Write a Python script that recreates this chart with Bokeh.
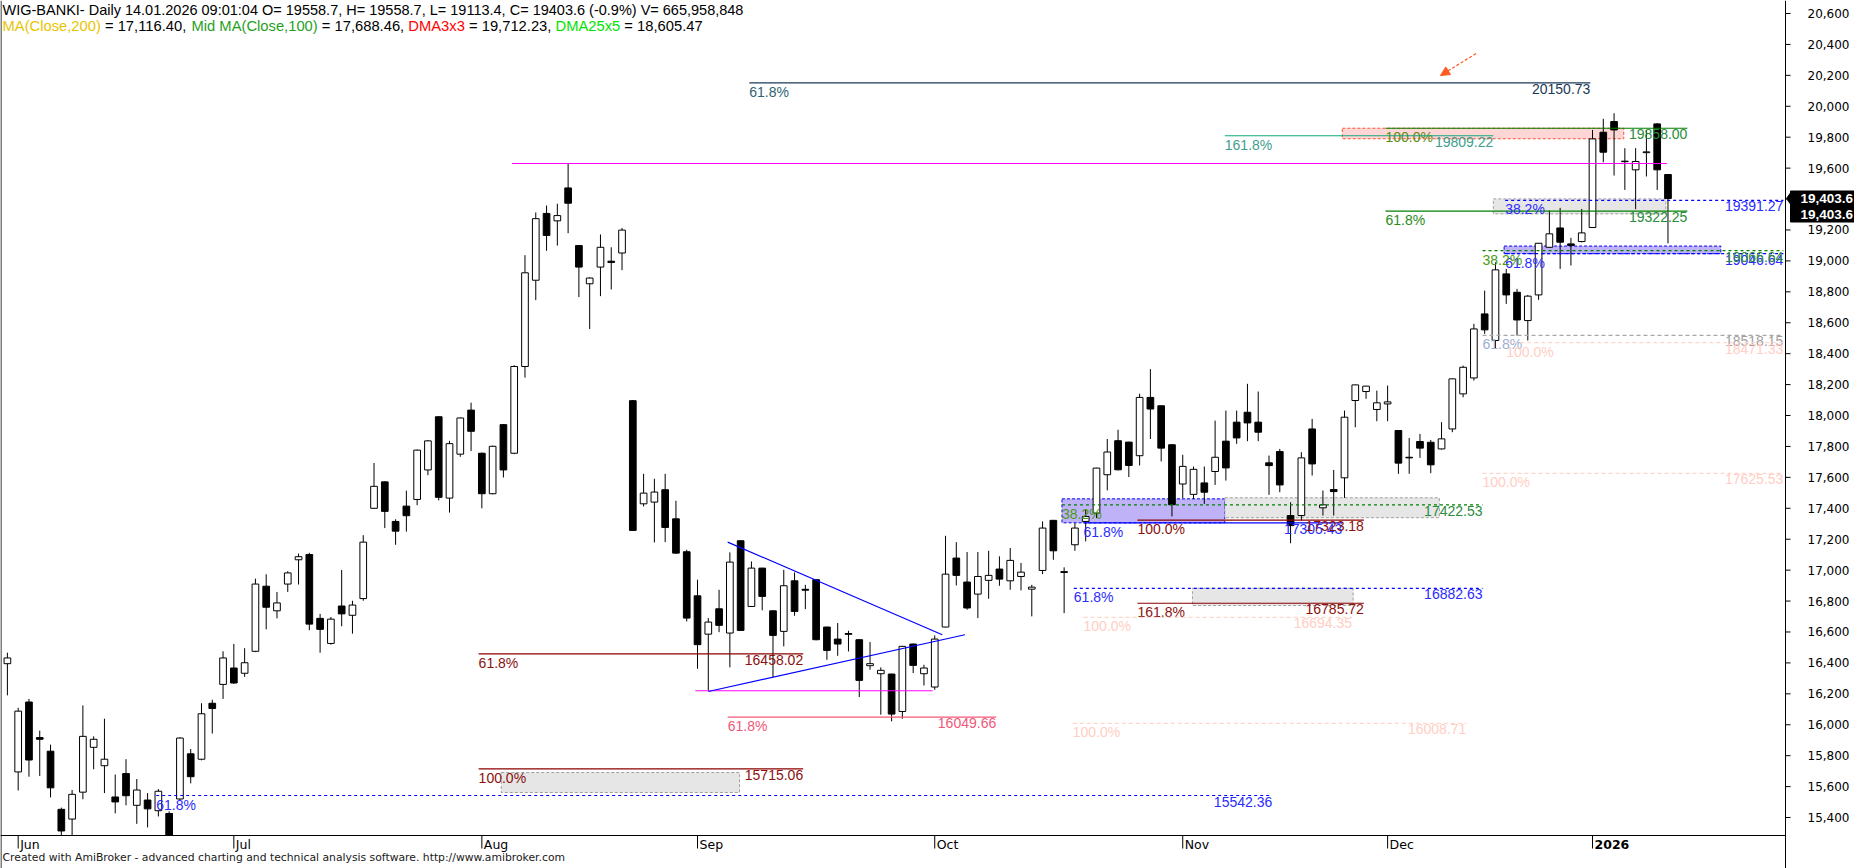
import datetime as dt
import numpy as np
from bokeh.plotting import figure
from bokeh.models import Range1d, Arrow, NormalHead
from bokeh.core.properties import value
from bokeh.embed import file_html
from bokeh.resources import INLINE

FONT = "Liberation Sans"
AFONT = "DejaVu Sans"

# ---------------- trading calendar ----------------
HOLIDAYS = {dt.date(2025, 6, 19), dt.date(2025, 8, 15), dt.date(2025, 11, 11),
            dt.date(2025, 12, 24), dt.date(2025, 12, 25), dt.date(2025, 12, 26),
            dt.date(2025, 12, 31), dt.date(2026, 1, 1), dt.date(2026, 1, 6)}
dates = []
d = dt.date(2025, 5, 30)
while d <= dt.date(2026, 1, 14):
    if d.weekday() < 5 and d not in HOLIDAYS:
        dates.append(d)
    d += dt.timedelta(days=1)

# ---------------- OHLC ----------------
open_ = [16395, 15695, 16147, 15917, 15829, 15453, 15390, 15564, 15854, 15735,
         15533, 15684, 15479, 15513, 15444, 15426, 15520, 15812, 15777, 16139,
         16261, 16367, 16333, 16475, 16896, 16737, 16910, 17067, 17101, 16688,
         16526, 16768, 16708, 16816, 17400, 17571, 17315, 17414, 17457, 17648,
         17992, 17466, 17750, 18035, 17756, 17494, 17941, 17756, 18317, 18875,
         19307, 19259, 19472, 19099, 18852, 18960, 18998, 19051, 18096, 17429,
         17440, 17520, 17332, 17119, 16834, 16586, 16750, 16593, 17190, 16765,
         17013, 16737, 16604, 16931, 16876, 16938, 16632, 16554, 16590, 16550,
         16382, 16330, 16328, 16086, 16522, 16330, 16244, 16632, 17078, 16923,
         16845, 16934, 17007, 16931, 16959, 16877, 16998, 17322, 16990, 17164,
         17315, 17369, 17617, 17837, 17828, 17740, 18117, 18063, 17811, 17557,
         17490, 17564, 17638, 17834, 17957, 18021, 17957, 17694, 17767, 17353,
         17353, 17913, 17403, 17521, 17597, 18097, 18155, 18039, 18075, 17903,
         17730, 17832, 17827, 17784, 17913, 18140, 18243, 18657, 18485, 18916,
         18797, 18614, 18780, 19088, 19213, 19110, 19125, 19216, 19832, 19901,
         19645, 19589, 19700, 19886, 19558.7]
high = [16466, 16110, 16167, 15962, 15871, 15464, 15578, 16125, 15925, 16039,
        15678, 15777, 15649, 15558, 15584, 15440, 15920, 15843, 16139, 16162,
        16475, 16523, 16495, 16945, 16973, 16859, 16993, 17107, 17112, 16717,
        16697, 17001, 16802, 17226, 17693, 17575, 17329, 17514, 17780, 17841,
        17995, 17836, 17987, 18083, 17760, 17805, 17945, 18325, 19037, 19313,
        19358, 19370, 19629, 19100, 18893, 19171, 19088, 19213, 18100, 17623,
        17591, 17623, 17449, 17132, 16938, 16690, 16873, 17115, 17192, 17056,
        17015, 16740, 17002, 16985, 16905, 16940, 16634, 16658, 16608, 16552,
        16535, 16371, 16330, 16510, 16525, 16388, 16578, 17222, 17181, 17117,
        17117, 17125, 17089, 17143, 17046, 16905, 17315, 17325, 17018, 17304,
        17391, 17662, 17848, 17908, 17830, 18141, 18300, 18065, 17815, 17746,
        17670, 17670, 17967, 18032, 18032, 18205, 18155, 17741, 17784, 17439,
        17763, 17978, 17515, 17648, 18032, 18200, 18192, 18161, 18194, 17905,
        17855, 17881, 17842, 17957, 18240, 18323, 18593, 18808, 18991, 18948,
        18819, 18780, 19116, 19326, 19343, 19149, 19336, 19847, 19919, 19955,
        19729, 19729, 19847, 19890, 19558.7]
low = [16190, 15575, 15664, 15669, 15530, 15240, 15250, 15518, 15712, 15558,
       15427, 15479, 15359, 15336, 15407, 15180, 15510, 15621, 15770, 15943,
       16167, 16265, 16310, 16470, 16617, 16688, 16859, 16907, 16611, 16466,
       16518, 16637, 16589, 16802, 17398, 17272, 17164, 17249, 17420, 17614,
       17451, 17372, 17733, 17770, 17400, 17490, 17599, 17750, 18245, 18746,
       19065, 19099, 19179, 18766, 18559, 18772, 18815, 18940, 17255, 17412,
       17179, 17181, 17105, 16668, 16362, 16222, 16599, 16371, 16608, 16762,
       16740, 16308, 16507, 16705, 16748, 16546, 16420, 16446, 16474, 16179,
       16356, 16065, 16022, 16039, 16334, 16254, 16226, 16630, 16901, 16744,
       16690, 16815, 16899, 16873, 16869, 16701, 16974, 17067, 16722, 17125,
       17186, 17337, 17516, 17645, 17602, 17677, 17848, 17703, 17347, 17466,
       17461, 17428, 17551, 17579, 17817, 17834, 17834, 17487, 17504, 17174,
       17321, 17612, 17353, 17353, 17467, 17924, 18108, 17963, 17963, 17623,
       17623, 17726, 17627, 17780, 17892, 18118, 18226, 18528, 18431, 18722,
       18517, 18485, 18748, 19085, 18948, 18970, 19120, 19216, 19638, 19552,
       19459, 19334, 19546, 19459, 19113.4]
close = [16432, 16088, 15772, 15906, 15592, 15313, 15550, 15925, 15906, 15777,
         15501, 15541, 15578, 15456, 15570, 15230, 15914, 15664, 16071, 16105,
         16432, 16270, 16401, 16910, 16760, 16788, 16982, 17087, 16651, 16617,
         16683, 16717, 16774, 17181, 17542, 17380, 17252, 17352, 17776, 17836,
         17471, 17818, 17984, 17898, 17494, 17801, 17648, 18317, 18923, 19273,
         19165, 19293, 19373, 18960, 18889, 19088, 18990, 19199, 17257, 17498,
         17505, 17276, 17110, 16690, 16518, 16664, 16643, 17052, 16610, 17013,
         16830, 16578, 16899, 16733, 16870, 16550, 16481, 16522, 16585, 16287,
         16395, 16352, 16069, 16507, 16384, 16367, 16554, 16974, 16966, 16755,
         16959, 16966, 16942, 17063, 16987, 16890, 17272, 17125, 16985, 17272,
         17347, 17660, 17764, 17649, 17677, 18117, 18042, 17789, 17423, 17671,
         17652, 17504, 17730, 17661, 17855, 17952, 17892, 17676, 17551, 17288,
         17726, 17687, 17422, 17508, 17989, 18198, 18190, 18082, 18088, 17692,
         17726, 17789, 17681, 17849, 18237, 18312, 18560, 18554, 18942, 18780,
         18618, 18772, 19114, 19175, 19121, 19100, 19181, 19789, 19703, 19847,
         19642, 19643, 19705, 19589, 19403.6]

# ---------------- header texts ----------------
title_line = ("WIG-BANKI- Daily 14.01.2026 09:01:04 O= 19558.7, H= 19558.7, "
              "L= 19113.4, C= 19403.6 (-0.9%) V= 665,958,848")
ma_names = ["MA(Close,200)", "Mid MA(Close,100)", "DMA3x3", "DMA25x5"]
ma_values = ["17,116.40", "17,688.46", "19,712.23", "18,605.47"]
ma_colors = ["#e8c400", "#1f9f1f", "#ff0000", "#00e400"]
footer = ("Created with AmiBroker - advanced charting and technical analysis "
          "software. http://www.amibroker.com")

# ---------------- y ticks ----------------
y_ticks = list(range(15400, 20601, 200))

# ---------------- fibonacci-like levels ----------------
fib_level = [20150.73, 19858.00, 19322.25, 19809.22, 19391.27, 19046.64, 19066.64,
             18518.15, 18471.33, 17625.53, 17305.43, 17422.53, 17323.18, 16882.63,
             16785.72, 16694.35, 16008.71, 16458.02, 15715.06, 15542.36, 16049.66]
fib_pct = ["61.8%", "100.0%", "61.8%", "161.8%", "38.2%", "61.8%", "38.2%",
           "61.8%", "100.0%", "100.0%", "61.8%", "38.2%", "100.0%", "61.8%",
           "161.8%", "100.0%", "100.0%", "61.8%", "100.0%", "61.8%", "61.8%"]
END = 164.7
fib_start = [68.8, 127.8, 127.8, 112.9, 138.9, 138.9, 136.8, 136.8, 139.0, 136.8,
             99.8, 97.8, 104.8, 98.9, 104.8, 99.8, 98.8, 43.7, 43.7, 13.8, 66.8]
fib_end = [146.8, 155.8, 155.8, 137.8, END, END, END, END, END, END,
           123.8, 136.8, 125.8, 136.8, 125.8, 124.7, 135.3, 73.8, 73.8, 117.3, 91.7]
fib_style = ["navy", "green100", "green", "teal", "bluedash", "bluedash", "greendash",
             "graydash", "pinkdash", "pinkdash", "blue", "greendash", "darkred", "bluedash",
             "darkred", "pinkdash", "pinkdash", "darkred", "darkred", "bluedash", "pink"]

STYLES = {
    "navy": ("#1b3a57", None, "#2f6470", "#1b3a57"),
    "green100": ("#008000", None, "#5d8c14", "#2a8c3c"),
    "green": ("#008000", None, "#2a8c1a", "#2a8c3c"),
    "teal": ("#12a97c", None, "#3f9e8e", "#3f9e8e"),
    "bluedash": ("#0000ff", "3 3", "#2b2bff", "#2b2bff"),
    "greendash": ("#008000", "3 3", "#4c9a14", "#2a8c3c"),
    "graydash": ("#a8a8a8", "4 3", "#98aed6", "#a0a0a0"),
    "pinkdash": ("#ffd6cc", "4 3", "#ffcec4", "#ffcec4"),
    "blue": ("#0000ff", None, "#2b2bff", "#2b2bff"),
    "darkred": ("#8b0000", None, "#8b1010", "#8b1010"),
    "pink": ("#f4587a", None, "#f0587a", "#f0587a"),
}

# horizontal marker lines (no labels)
mark_level = [19630, 16220]
mark_start = [46.8, 63.8]
mark_end = [153.9, 85.8]

# zones
zone_x0 = [123.8, 137.8, 138.8, 97.8, 112.9, 109.9, 45.8]
zone_x1 = [149.9, 153.8, 158.9, 112.9, 132.8, 124.8, 67.9]
zone_lo = [19790, 19304, 19046.64, 17306, 17339, 16771, 15562]
zone_hi = [19858, 19401, 19096, 17461, 17468, 16883, 15691]
zone_kind = ["pink", "gray", "lav", "lav", "gray", "gray", "gray"]
ZONE_STY = {"pink": ("#ffd6d6", "#ff5030"), "gray": ("#e6e6e6", "#a0a0a0"),
            "lav": ("#bfb2f6", "#0000ff")}

# triangle pattern lines
tri_x0 = [66.8, 65.0]
tri_y0 = [17181, 16215]
tri_x1 = [86.7, 88.8]
tri_y1 = [16582, 16582]

# ---------------- geometry (pixel <-> data) ----------------
W_FIG, H_FIG = 1854, 868
BAR_PX, BAR_OFF = 10.783, 6.9
VAL_PX, TOP_PX, TOP_VAL = 0.15462, 13.0, 20600.0


def N(px):
    return (px - BAR_OFF) / BAR_PX


def V(py):
    return TOP_VAL - (py - TOP_PX) / VAL_PX


X0, X1 = N(0), N(W_FIG)
Y0, Y1 = V(H_FIG), V(0)
AXIS_V = V(835)
AXIS_X = N(1785)

p = figure(width=W_FIG, height=H_FIG, x_range=Range1d(X0, X1), y_range=Range1d(Y0, Y1),
           output_backend="svg", toolbar_location=None,
           x_axis_location=None, y_axis_location=None,
           min_border_left=0, min_border_right=0, min_border_top=0, min_border_bottom=0)
p.grid.visible = False
p.outline_line_color = None
p.background_fill_color = "white"
p.border_fill_color = "white"

# zones
for x0, x1, lo, hi, k in zip(zone_x0, zone_x1, zone_lo, zone_hi, zone_kind):
    fc, lc = ZONE_STY[k]
    p.quad(left=[x0], right=[x1], bottom=[lo], top=[hi], fill_color=fc, line_color=lc,
           line_dash="3 2", line_width=1)

# candles
idx = np.arange(len(dates))
o = np.array(open_, float)
h = np.array(high, float)
l = np.array(low, float)
c = np.array(close, float)
up = c >= o
btop = np.maximum(o, c)
bbot = np.maximum(np.minimum(o, c), AXIS_V)
p.segment(x0=idx, y0=np.maximum(l, AXIS_V), x1=idx, y1=h, line_color="black", line_width=1)
p.vbar(x=idx[up], top=btop[up], bottom=bbot[up], width=0.62, fill_color="white",
       line_color="black", line_width=1)
p.vbar(x=idx[~up], top=btop[~up], bottom=bbot[~up], width=0.62, fill_color="black",
       line_color="black", line_width=1)

# marker lines
for lv, s, e in zip(mark_level, mark_start, mark_end):
    p.segment(x0=[s], y0=[lv], x1=[e], y1=[lv], line_color="#ff00ff", line_width=1.2)

# triangle
p.segment(x0=tri_x0, y0=tri_y0, x1=tri_x1, y1=tri_y1, line_color="#0000ff", line_width=1.2)

# fib lines and labels
for lv, pct, s, e, st in zip(fib_level, fib_pct, fib_start, fib_end, fib_style):
    lc, dash, pc, vc = STYLES[st]
    kw = dict(line_color=lc, line_width=1.2)
    if dash:
        kw["line_dash"] = dash
    p.segment(x0=[s], y0=[lv], x1=[e], y1=[lv], **kw)
    p.text(x=[s], y=[lv], text=[pct], text_color=pc, text_font=value(FONT),
           text_font_size="14px", text_baseline="top", text_align="left", y_offset=1)
    p.text(x=[e], y=[lv], text=[f"{lv:.2f}"], text_color=vc, text_font=value(FONT),
           text_font_size="14px", text_baseline="top", text_align="right", y_offset=1)

# arrow
p.add_layout(Arrow(end=NormalHead(size=9, fill_color="#ff5a1f", line_color="#ff5a1f"),
                   x_start=136.2, y_start=20341, x_end=132.9, y_end=20199,
                   line_color="#ff5a1f", line_dash="3 2", line_width=1.2))

# frame lines
p.segment(x0=[X0], y0=[AXIS_V], x1=[AXIS_X], y1=[AXIS_V], line_color="black", line_width=1)
p.segment(x0=[AXIS_X], y0=[Y0], x1=[AXIS_X], y1=[Y1], line_color="black", line_width=1)
p.segment(x0=[N(0.5)], y0=[Y0], x1=[N(0.5)], y1=[Y1], line_color="black", line_width=1)

# y axis ticks and labels (right side)
p.segment(x0=[AXIS_X] * len(y_ticks), y0=y_ticks, x1=[N(1790)] * len(y_ticks), y1=y_ticks,
          line_color="black", line_width=1)
p.text(x=[N(1807)] * len(y_ticks), y=y_ticks, text=[f"{t:,}" for t in y_ticks],
       text_font=value(AFONT), text_font_size="12px", text_baseline="middle",
       text_align="left", text_color="black")

# month ticks and labels
month_idx = [i for i in range(1, len(dates)) if dates[i].month != dates[i - 1].month]
month_lbl = ["2026" if dates[i].month == 1 else dates[i].strftime("%b") for i in month_idx]
p.segment(x0=month_idx, y0=[AXIS_V] * len(month_idx), x1=month_idx,
          y1=[V(848)] * len(month_idx), line_color="black", line_width=1)
for i, t in zip(month_idx, month_lbl):
    p.text(x=[i], y=[V(844)], text=[t], text_font=value(AFONT), text_font_size="12.5px",
           text_baseline="middle", text_align="left", x_offset=2, text_color="black",
           text_font_style="bold" if t == "2026" else "normal")

p.text(x=[N(2)], y=[V(857)], text=[footer], text_font=value(AFONT), text_font_size="10.8px",
       text_baseline="middle", text_align="left", text_color="#202020")

# header
CW = {' ': 0.278, ',': 0.278, '.': 0.278, ':': 0.278, '-': 0.333, '(': 0.333, ')': 0.333,
      '=': 0.584, '%': 0.889, 'M': 0.833, 'A': 0.667, 'C': 0.722, 'D': 0.722, 'l': 0.222,
      'o': 0.556, 's': 0.5, 'e': 0.556, 'i': 0.222, 'd': 0.556, 'x': 0.5}
HS1, HS2 = 14.5, 14.75


def tw(s, size):
    return sum(CW.get(ch, 0.556) for ch in s) * size


p.text(x=[N(2)], y=[V(1)], text=[title_line], text_font=value(FONT),
       text_font_size=f"{HS1}px", text_baseline="top", text_align="left", text_color="black")
segs = []
for k, (nm, vl, col) in enumerate(zip(ma_names, ma_values, ma_colors)):
    segs.append(((" " if k else "") + nm, col))
    segs.append((" = " + vl + ("," if k < len(ma_names) - 1 else ""), "black"))
prefix = ""
for s, col in segs:
    lead = len(s) - len(s.lstrip(" "))
    off = tw(prefix + s[:lead], HS2)
    p.text(x=[N(2)], y=[V(17.5)], text=[s.strip()], text_font=value(FONT),
           text_font_size=f"{HS2}px", text_baseline="top", text_align="left",
           x_offset=off, text_color=col)
    prefix += s

# last price boxes (right margin)
last = close[-1]
box_top = [V(190.5), V(205.5)]
box_bot = [V(205.5), V(221.5)]
p.quad(left=[N(1790)] * 2, right=[X1] * 2, top=box_top, bottom=box_bot,
       fill_color="black", line_color="black")
p.patch(x=[N(1786), N(1791), N(1791)], y=[last, last + 7 / VAL_PX, last - 7 / VAL_PX],
        fill_color="black", line_color="black")
p.text(x=[N(1800)] * 2, y=[(a + b) / 2 for a, b in zip(box_top, box_bot)],
       text=[f"{last:,.1f}"] * 2, text_font=value(FONT), text_font_size="13.5px",
       text_font_style="bold", text_color="white", text_baseline="middle", text_align="left")

open("out.html", "w").write(file_html(p, INLINE))
